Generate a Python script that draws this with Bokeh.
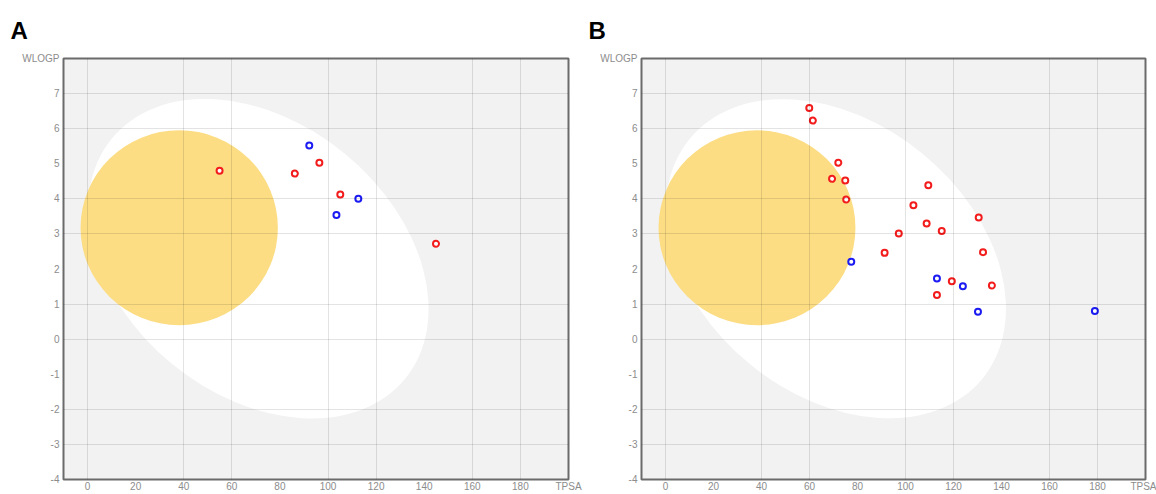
from bokeh.plotting import figure
from bokeh.layouts import row
from bokeh.models import Range1d, FixedTicker
from bokeh.embed import file_html
from bokeh.resources import INLINE

# ---------------- data ----------------
x_ticks = [0, 20, 40, 60, 80, 100, 120, 140, 160, 180, 200]
y_ticks = [-4, -3, -2, -1, 0, 1, 2, 3, 4, 5, 6, 7, 8]
x_grid_ticks = [0, 40, 60, 100, 120, 160, 180]
y_grid_ticks = [-3, -2, 0, 1, 3, 4, 6, 7]
x_axis_name = "TPSA"
y_axis_name = "WLOGP"

# egg white (HIA) and yolk (BBB) regions: centre, width, height, angle
white_x, white_y, white_w, white_h, white_angle = 71.051, 2.292, 157.7, 7.76, -0.686
yolk_x, yolk_y, yolk_w, yolk_h = 38.117, 3.177, 82.061, 5.557

# panel A
a_red_tpsa = [54.9, 86.2, 96.4, 105.1, 144.9]
a_red_wlogp = [4.80, 4.72, 5.03, 4.12, 2.72]
a_blue_tpsa = [92.2, 103.5, 112.6]
a_blue_wlogp = [5.52, 3.54, 4.00]

# panel B
b_red_tpsa = [59.9, 61.4, 72.0, 69.4, 74.9, 75.3, 109.5, 103.3, 130.5,
              108.8, 115.1, 97.2, 91.3, 132.3, 119.3, 136.0, 113.1]
b_red_wlogp = [6.59, 6.23, 5.03, 4.57, 4.52, 3.98, 4.39, 3.82, 3.47,
               3.30, 3.08, 3.01, 2.46, 2.48, 1.65, 1.53, 1.26]
b_blue_tpsa = [77.4, 113.1, 123.9, 130.2, 178.9]
b_blue_wlogp = [2.21, 1.73, 1.51, 0.78, 0.80]

FONT = "Liberation Sans"


def egg_panel(letter, red_x, red_y, blue_x, blue_y, width, border_left, border_right):
    p = figure(width=width, height=494,
               x_range=Range1d(-10, 200), y_range=Range1d(-4, 8),
               output_backend="svg", toolbar_location=None,
               min_border_left=border_left, min_border_right=border_right,
               min_border_top=58, min_border_bottom=10,
               background_fill_color="#f2f2f2", border_fill_color="white",
               outline_line_color="#6b6b6b", outline_line_width=2)

    # panel letter
    p.title.text = letter
    p.title.text_font = FONT
    p.title.text_font_size = "24px"
    p.title.text_font_style = "bold"
    p.title.text_color = "black"
    p.title.align = "left"
    p.title.offset = -53
    p.title.standoff = 29

    # egg white and yolk
    p.ellipse(x=[white_x], y=[white_y], width=[white_w], height=[white_h],
              angle=[white_angle], fill_color="white", line_color=None)
    p.ellipse(x=[yolk_x], y=[yolk_y], width=[yolk_w], height=[yolk_h],
              fill_color="#fcdd84", line_color=None)

    # molecules
    p.scatter(red_x, red_y, size=6, marker="circle", fill_color="white",
              line_color="#f21c1c", line_width=2)
    p.scatter(blue_x, blue_y, size=6, marker="circle", fill_color="white",
              line_color="#1c1cf2", line_width=2)

    # axes
    for ax, ticks, name, last in ((p.xaxis[0], x_ticks, x_axis_name, 200),
                                  (p.yaxis[0], y_ticks, y_axis_name, 8)):
        ax.ticker = FixedTicker(ticks=ticks)
        overrides = {t: str(t) for t in ticks if t < 0}
        overrides[last] = name
        ax.major_label_overrides = overrides
        ax.axis_line_color = None
        ax.major_tick_line_color = None
        ax.minor_tick_line_color = None
        ax.major_tick_out = 0
        ax.major_tick_in = 0
        ax.minor_tick_out = 0
        ax.minor_tick_in = 0
        ax.major_label_text_font = FONT
        ax.major_label_text_font_size = "10px"
        ax.major_label_text_color = "#8c8c8c"
    p.xaxis.major_label_standoff = 1
    p.yaxis.major_label_standoff = 4

    # grid
    p.xgrid.ticker = FixedTicker(ticks=x_grid_ticks)
    p.ygrid.ticker = FixedTicker(ticks=y_grid_ticks)
    for g in (p.xgrid[0], p.ygrid[0]):
        g.grid_line_color = "black"
        g.grid_line_alpha = 0.11
        g.grid_line_width = 1
        g.level = "overlay"
    return p


pa = egg_panel("A", a_red_tpsa, a_red_wlogp, a_blue_tpsa, a_blue_wlogp, 586, 63, 18)
pb = egg_panel("B", b_red_tpsa, b_red_wlogp, b_blue_tpsa, b_blue_wlogp, 570, 55, 11)

layout = row(pa, pb)
open("out.html", "w").write(file_html(layout, INLINE))
